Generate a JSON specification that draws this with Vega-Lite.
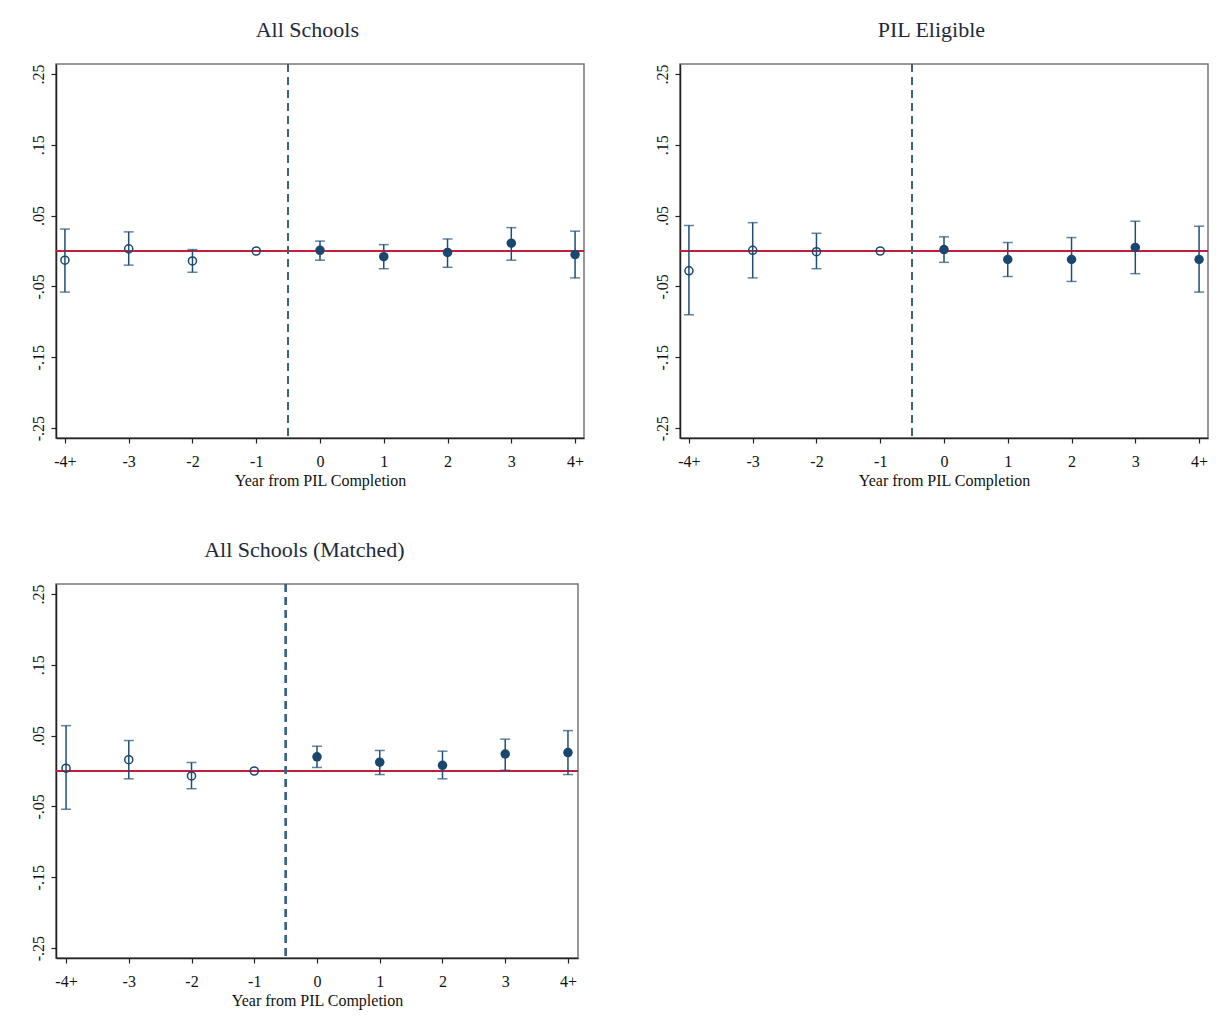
{
  "$schema": "https://vega.github.io/schema/vega-lite/v6.json",
  "background": "white",
  "padding": {"left": 29, "top": 18, "right": 10, "bottom": 10},
  "datasets": {
    "all": [
      {"t": -4, "est": -0.013, "lo": -0.058, "hi": 0.031, "post": 0},
      {"t": -3, "est": 0.003, "lo": -0.020, "hi": 0.027, "post": 0},
      {"t": -2, "est": -0.014, "lo": -0.030, "hi": 0.002, "post": 0},
      {"t": -1, "est": 0, "lo": null, "hi": null, "post": 0},
      {"t": 0, "est": 0.001, "lo": -0.013, "hi": 0.014, "post": 1},
      {"t": 1, "est": -0.008, "lo": -0.025, "hi": 0.009, "post": 1},
      {"t": 2, "est": -0.002, "lo": -0.023, "hi": 0.017, "post": 1},
      {"t": 3, "est": 0.011, "lo": -0.013, "hi": 0.033, "post": 1},
      {"t": 4, "est": -0.005, "lo": -0.038, "hi": 0.028, "post": 1}
    ],
    "elig": [
      {"t": -4, "est": -0.028, "lo": -0.090, "hi": 0.036, "post": 0},
      {"t": -3, "est": 0.001, "lo": -0.038, "hi": 0.040, "post": 0},
      {"t": -2, "est": -0.001, "lo": -0.025, "hi": 0.025, "post": 0},
      {"t": -1, "est": 0, "lo": null, "hi": null, "post": 0},
      {"t": 0, "est": 0.002, "lo": -0.016, "hi": 0.020, "post": 1},
      {"t": 1, "est": -0.012, "lo": -0.036, "hi": 0.012, "post": 1},
      {"t": 2, "est": -0.012, "lo": -0.043, "hi": 0.019, "post": 1},
      {"t": 3, "est": 0.005, "lo": -0.032, "hi": 0.042, "post": 1},
      {"t": 4, "est": -0.012, "lo": -0.058, "hi": 0.035, "post": 1}
    ],
    "matched": [
      {"t": -4, "est": 0.004, "lo": -0.054, "hi": 0.064, "post": 0},
      {"t": -3, "est": 0.016, "lo": -0.011, "hi": 0.043, "post": 0},
      {"t": -2, "est": -0.007, "lo": -0.025, "hi": 0.012, "post": 0},
      {"t": -1, "est": 0, "lo": null, "hi": null, "post": 0},
      {"t": 0, "est": 0.020, "lo": 0.005, "hi": 0.035, "post": 1},
      {"t": 1, "est": 0.0125, "lo": -0.005, "hi": 0.029, "post": 1},
      {"t": 2, "est": 0.008, "lo": -0.011, "hi": 0.028, "post": 1},
      {"t": 3, "est": 0.024, "lo": 0.001, "hi": 0.045, "post": 1},
      {"t": 4, "est": 0.026, "lo": -0.005, "hi": 0.057, "post": 1}
    ]
  },
  "vconcat": [
    {
      "hconcat": [
        {
          "title": {"text": "All Schools"},
          "width": 528, "height": 374,
          "data": {"name": "all"},
          "layer": [
            {"mark": {"type": "rule", "color": "#c41e3a", "strokeWidth": 1.5}, "encoding": {"y": {"datum": 0, "type": "quantitative", "scale": {"domain": [-0.264, 0.264], "nice": false, "zero": false}, "axis": {"values": [-0.25, -0.15, -0.05, 0.05, 0.15, 0.25], "labelExpr": "(datum.value < 0 ? '-' : '') + replace(format(abs(datum.value), '.2f'), '0.', '.')", "title": null}}}},
            {"mark": {"type": "rule", "color": "#3d6189", "strokeWidth": 1.5, "strokeDash": [8, 5]}, "encoding": {"x": {"datum": -0.5, "type": "quantitative", "scale": {"domain": [-4.14, 4.14], "nice": false, "zero": false}, "axis": {"values": [-4, -3, -2, -1, 0, 1, 2, 3, 4], "labelExpr": "datum.value == -4 ? '-4+' : datum.value == 4 ? '4+' : (datum.value < 0 ? '-' : '') + abs(datum.value)", "title": "Year from PIL Completion"}}}},
            {"mark": {"type": "rule", "color": "#1f4e79", "strokeWidth": 1.5}, "encoding": {"x": {"field": "t", "type": "quantitative", "axis": {"values": [-4, -3, -2, -1, 0, 1, 2, 3, 4], "labelExpr": "datum.value == -4 ? '-4+' : datum.value == 4 ? '4+' : (datum.value < 0 ? '-' : '') + abs(datum.value)", "title": "Year from PIL Completion"}}, "y": {"field": "lo", "type": "quantitative", "axis": {"values": [-0.25, -0.15, -0.05, 0.05, 0.15, 0.25], "labelExpr": "(datum.value < 0 ? '-' : '') + replace(format(abs(datum.value), '.2f'), '0.', '.')", "title": null}}, "y2": {"field": "hi"}}},
            {"mark": {"type": "tick", "orient": "horizontal", "color": "#1f4e79", "thickness": 1.5, "size": 10}, "encoding": {"x": {"field": "t", "type": "quantitative", "axis": {"values": [-4, -3, -2, -1, 0, 1, 2, 3, 4], "labelExpr": "datum.value == -4 ? '-4+' : datum.value == 4 ? '4+' : (datum.value < 0 ? '-' : '') + abs(datum.value)", "title": "Year from PIL Completion"}}, "y": {"field": "lo", "type": "quantitative", "axis": {"values": [-0.25, -0.15, -0.05, 0.05, 0.15, 0.25], "labelExpr": "(datum.value < 0 ? '-' : '') + replace(format(abs(datum.value), '.2f'), '0.', '.')", "title": null}}}},
            {"mark": {"type": "tick", "orient": "horizontal", "color": "#1f4e79", "thickness": 1.5, "size": 10}, "encoding": {"x": {"field": "t", "type": "quantitative", "axis": {"values": [-4, -3, -2, -1, 0, 1, 2, 3, 4], "labelExpr": "datum.value == -4 ? '-4+' : datum.value == 4 ? '4+' : (datum.value < 0 ? '-' : '') + abs(datum.value)", "title": "Year from PIL Completion"}}, "y": {"field": "hi", "type": "quantitative", "axis": {"values": [-0.25, -0.15, -0.05, 0.05, 0.15, 0.25], "labelExpr": "(datum.value < 0 ? '-' : '') + replace(format(abs(datum.value), '.2f'), '0.', '.')", "title": null}}}},
            {"transform": [{"filter": "datum.post == 0"}], "mark": {"type": "point", "shape": "circle", "filled": false, "color": "#1a476f", "strokeWidth": 1.5, "size": 65, "opacity": 1}, "encoding": {"x": {"field": "t", "type": "quantitative", "axis": {"values": [-4, -3, -2, -1, 0, 1, 2, 3, 4], "labelExpr": "datum.value == -4 ? '-4+' : datum.value == 4 ? '4+' : (datum.value < 0 ? '-' : '') + abs(datum.value)", "title": "Year from PIL Completion"}}, "y": {"field": "est", "type": "quantitative", "axis": {"values": [-0.25, -0.15, -0.05, 0.05, 0.15, 0.25], "labelExpr": "(datum.value < 0 ? '-' : '') + replace(format(abs(datum.value), '.2f'), '0.', '.')", "title": null}}}},
            {"transform": [{"filter": "datum.post == 1"}], "mark": {"type": "circle", "color": "#1a476f", "size": 90, "opacity": 1}, "encoding": {"x": {"field": "t", "type": "quantitative", "axis": {"values": [-4, -3, -2, -1, 0, 1, 2, 3, 4], "labelExpr": "datum.value == -4 ? '-4+' : datum.value == 4 ? '4+' : (datum.value < 0 ? '-' : '') + abs(datum.value)", "title": "Year from PIL Completion"}}, "y": {"field": "est", "type": "quantitative", "axis": {"values": [-0.25, -0.15, -0.05, 0.05, 0.15, 0.25], "labelExpr": "(datum.value < 0 ? '-' : '') + replace(format(abs(datum.value), '.2f'), '0.', '.')", "title": null}}}}
          ]
        },
        {
          "title": {"text": "PIL Eligible"},
          "width": 528, "height": 374,
          "data": {"name": "elig"},
          "layer": [
            {"mark": {"type": "rule", "color": "#c41e3a", "strokeWidth": 1.5}, "encoding": {"y": {"datum": 0, "type": "quantitative", "scale": {"domain": [-0.264, 0.264], "nice": false, "zero": false}, "axis": {"values": [-0.25, -0.15, -0.05, 0.05, 0.15, 0.25], "labelExpr": "(datum.value < 0 ? '-' : '') + replace(format(abs(datum.value), '.2f'), '0.', '.')", "title": null}}}},
            {"mark": {"type": "rule", "color": "#3d6189", "strokeWidth": 1.5, "strokeDash": [8, 5]}, "encoding": {"x": {"datum": -0.5, "type": "quantitative", "scale": {"domain": [-4.14, 4.14], "nice": false, "zero": false}, "axis": {"values": [-4, -3, -2, -1, 0, 1, 2, 3, 4], "labelExpr": "datum.value == -4 ? '-4+' : datum.value == 4 ? '4+' : (datum.value < 0 ? '-' : '') + abs(datum.value)", "title": "Year from PIL Completion"}}}},
            {"mark": {"type": "rule", "color": "#1f4e79", "strokeWidth": 1.5}, "encoding": {"x": {"field": "t", "type": "quantitative", "axis": {"values": [-4, -3, -2, -1, 0, 1, 2, 3, 4], "labelExpr": "datum.value == -4 ? '-4+' : datum.value == 4 ? '4+' : (datum.value < 0 ? '-' : '') + abs(datum.value)", "title": "Year from PIL Completion"}}, "y": {"field": "lo", "type": "quantitative", "axis": {"values": [-0.25, -0.15, -0.05, 0.05, 0.15, 0.25], "labelExpr": "(datum.value < 0 ? '-' : '') + replace(format(abs(datum.value), '.2f'), '0.', '.')", "title": null}}, "y2": {"field": "hi"}}},
            {"mark": {"type": "tick", "orient": "horizontal", "color": "#1f4e79", "thickness": 1.5, "size": 10}, "encoding": {"x": {"field": "t", "type": "quantitative", "axis": {"values": [-4, -3, -2, -1, 0, 1, 2, 3, 4], "labelExpr": "datum.value == -4 ? '-4+' : datum.value == 4 ? '4+' : (datum.value < 0 ? '-' : '') + abs(datum.value)", "title": "Year from PIL Completion"}}, "y": {"field": "lo", "type": "quantitative", "axis": {"values": [-0.25, -0.15, -0.05, 0.05, 0.15, 0.25], "labelExpr": "(datum.value < 0 ? '-' : '') + replace(format(abs(datum.value), '.2f'), '0.', '.')", "title": null}}}},
            {"mark": {"type": "tick", "orient": "horizontal", "color": "#1f4e79", "thickness": 1.5, "size": 10}, "encoding": {"x": {"field": "t", "type": "quantitative", "axis": {"values": [-4, -3, -2, -1, 0, 1, 2, 3, 4], "labelExpr": "datum.value == -4 ? '-4+' : datum.value == 4 ? '4+' : (datum.value < 0 ? '-' : '') + abs(datum.value)", "title": "Year from PIL Completion"}}, "y": {"field": "hi", "type": "quantitative", "axis": {"values": [-0.25, -0.15, -0.05, 0.05, 0.15, 0.25], "labelExpr": "(datum.value < 0 ? '-' : '') + replace(format(abs(datum.value), '.2f'), '0.', '.')", "title": null}}}},
            {"transform": [{"filter": "datum.post == 0"}], "mark": {"type": "point", "shape": "circle", "filled": false, "color": "#1a476f", "strokeWidth": 1.5, "size": 65, "opacity": 1}, "encoding": {"x": {"field": "t", "type": "quantitative", "axis": {"values": [-4, -3, -2, -1, 0, 1, 2, 3, 4], "labelExpr": "datum.value == -4 ? '-4+' : datum.value == 4 ? '4+' : (datum.value < 0 ? '-' : '') + abs(datum.value)", "title": "Year from PIL Completion"}}, "y": {"field": "est", "type": "quantitative", "axis": {"values": [-0.25, -0.15, -0.05, 0.05, 0.15, 0.25], "labelExpr": "(datum.value < 0 ? '-' : '') + replace(format(abs(datum.value), '.2f'), '0.', '.')", "title": null}}}},
            {"transform": [{"filter": "datum.post == 1"}], "mark": {"type": "circle", "color": "#1a476f", "size": 90, "opacity": 1}, "encoding": {"x": {"field": "t", "type": "quantitative", "axis": {"values": [-4, -3, -2, -1, 0, 1, 2, 3, 4], "labelExpr": "datum.value == -4 ? '-4+' : datum.value == 4 ? '4+' : (datum.value < 0 ? '-' : '') + abs(datum.value)", "title": "Year from PIL Completion"}}, "y": {"field": "est", "type": "quantitative", "axis": {"values": [-0.25, -0.15, -0.05, 0.05, 0.15, 0.25], "labelExpr": "(datum.value < 0 ? '-' : '') + replace(format(abs(datum.value), '.2f'), '0.', '.')", "title": null}}}}
          ]
        }
      ]
    },
    {
      "title": {"text": "All Schools (Matched)"},
      "width": 522, "height": 374,
      "data": {"name": "matched"},
      "layer": [
        {"mark": {"type": "rule", "color": "#c41e3a", "strokeWidth": 1.5}, "encoding": {"y": {"datum": 0, "type": "quantitative", "scale": {"domain": [-0.264, 0.264], "nice": false, "zero": false}, "axis": {"values": [-0.25, -0.15, -0.05, 0.05, 0.15, 0.25], "labelExpr": "(datum.value < 0 ? '-' : '') + replace(format(abs(datum.value), '.2f'), '0.', '.')", "title": null}}}},
        {"mark": {"type": "rule", "color": "#3d6189", "strokeWidth": 1.5, "strokeDash": [8, 5]}, "encoding": {"x": {"datum": -0.5, "type": "quantitative", "scale": {"domain": [-4.16, 4.16], "nice": false, "zero": false}, "axis": {"values": [-4, -3, -2, -1, 0, 1, 2, 3, 4], "labelExpr": "datum.value == -4 ? '-4+' : datum.value == 4 ? '4+' : (datum.value < 0 ? '-' : '') + abs(datum.value)", "title": "Year from PIL Completion"}}}},
        {"mark": {"type": "rule", "color": "#1f4e79", "strokeWidth": 1.5}, "encoding": {"x": {"field": "t", "type": "quantitative", "axis": {"values": [-4, -3, -2, -1, 0, 1, 2, 3, 4], "labelExpr": "datum.value == -4 ? '-4+' : datum.value == 4 ? '4+' : (datum.value < 0 ? '-' : '') + abs(datum.value)", "title": "Year from PIL Completion"}}, "y": {"field": "lo", "type": "quantitative", "axis": {"values": [-0.25, -0.15, -0.05, 0.05, 0.15, 0.25], "labelExpr": "(datum.value < 0 ? '-' : '') + replace(format(abs(datum.value), '.2f'), '0.', '.')", "title": null}}, "y2": {"field": "hi"}}},
        {"mark": {"type": "tick", "orient": "horizontal", "color": "#1f4e79", "thickness": 1.5, "size": 10}, "encoding": {"x": {"field": "t", "type": "quantitative", "axis": {"values": [-4, -3, -2, -1, 0, 1, 2, 3, 4], "labelExpr": "datum.value == -4 ? '-4+' : datum.value == 4 ? '4+' : (datum.value < 0 ? '-' : '') + abs(datum.value)", "title": "Year from PIL Completion"}}, "y": {"field": "lo", "type": "quantitative", "axis": {"values": [-0.25, -0.15, -0.05, 0.05, 0.15, 0.25], "labelExpr": "(datum.value < 0 ? '-' : '') + replace(format(abs(datum.value), '.2f'), '0.', '.')", "title": null}}}},
        {"mark": {"type": "tick", "orient": "horizontal", "color": "#1f4e79", "thickness": 1.5, "size": 10}, "encoding": {"x": {"field": "t", "type": "quantitative", "axis": {"values": [-4, -3, -2, -1, 0, 1, 2, 3, 4], "labelExpr": "datum.value == -4 ? '-4+' : datum.value == 4 ? '4+' : (datum.value < 0 ? '-' : '') + abs(datum.value)", "title": "Year from PIL Completion"}}, "y": {"field": "hi", "type": "quantitative", "axis": {"values": [-0.25, -0.15, -0.05, 0.05, 0.15, 0.25], "labelExpr": "(datum.value < 0 ? '-' : '') + replace(format(abs(datum.value), '.2f'), '0.', '.')", "title": null}}}},
        {"transform": [{"filter": "datum.post == 0"}], "mark": {"type": "point", "shape": "circle", "filled": false, "color": "#1a476f", "strokeWidth": 1.5, "size": 65, "opacity": 1}, "encoding": {"x": {"field": "t", "type": "quantitative", "axis": {"values": [-4, -3, -2, -1, 0, 1, 2, 3, 4], "labelExpr": "datum.value == -4 ? '-4+' : datum.value == 4 ? '4+' : (datum.value < 0 ? '-' : '') + abs(datum.value)", "title": "Year from PIL Completion"}}, "y": {"field": "est", "type": "quantitative", "axis": {"values": [-0.25, -0.15, -0.05, 0.05, 0.15, 0.25], "labelExpr": "(datum.value < 0 ? '-' : '') + replace(format(abs(datum.value), '.2f'), '0.', '.')", "title": null}}}},
        {"transform": [{"filter": "datum.post == 1"}], "mark": {"type": "circle", "color": "#1a476f", "size": 90, "opacity": 1}, "encoding": {"x": {"field": "t", "type": "quantitative", "axis": {"values": [-4, -3, -2, -1, 0, 1, 2, 3, 4], "labelExpr": "datum.value == -4 ? '-4+' : datum.value == 4 ? '4+' : (datum.value < 0 ? '-' : '') + abs(datum.value)", "title": "Year from PIL Completion"}}, "y": {"field": "est", "type": "quantitative", "axis": {"values": [-0.25, -0.15, -0.05, 0.05, 0.15, 0.25], "labelExpr": "(datum.value < 0 ? '-' : '') + replace(format(abs(datum.value), '.2f'), '0.', '.')", "title": null}}}}
      ]
    }
  ],
  "spacing": 49,
  "config": {
    "concat": {"spacing": 67},
    "view": {"stroke": "#777", "strokeWidth": 1.5},
    "axis": {
      "labelFont": "Liberation Serif", "titleFont": "Liberation Serif",
      "labelFontSize": 16, "titleFontSize": 16, "titleFontWeight": "normal",
      "labelColor": "#111", "titleColor": "#111",
      "domainColor": "#222", "domainWidth": 1.5, "tickColor": "#222", "tickWidth": 1.2,
      "tickSize": 5, "grid": false, "titlePadding": 3
    },
    "axisX": {"labelPadding": 10},
    "axisY": {"labelAngle": -90, "labelAlign": "center", "labelBaseline": "bottom", "labelPadding": 5},
    "title": {"font": "Liberation Serif", "fontSize": 22, "fontWeight": "normal", "color": "#1e2a3a", "anchor": "middle", "frame": "bounds", "offset": 21}
  }
}
